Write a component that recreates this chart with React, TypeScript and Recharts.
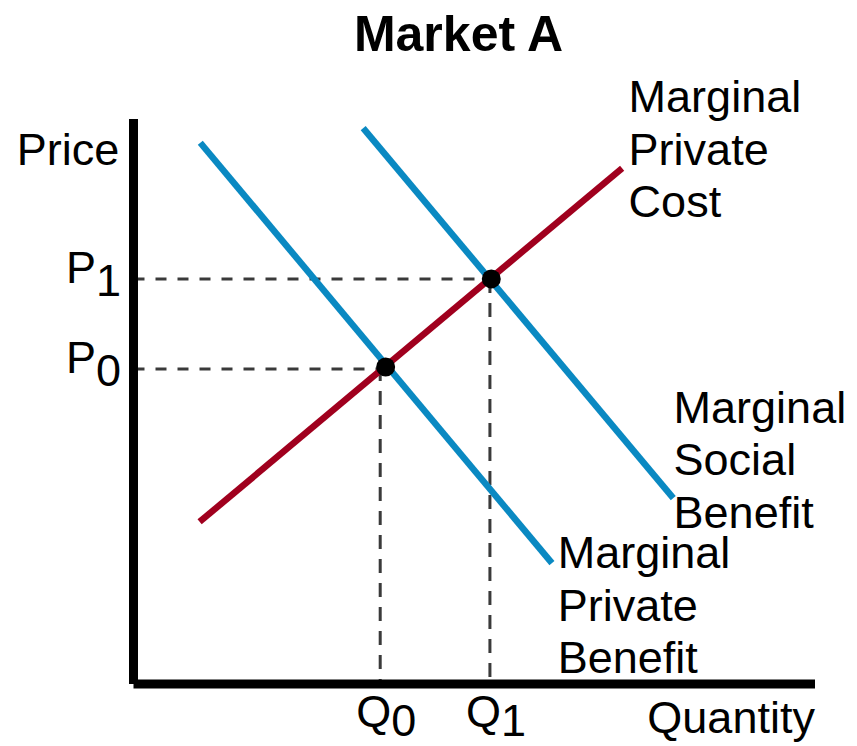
import React from 'react';
import { ComposedChart, Line, XAxis, YAxis, ReferenceLine, ReferenceDot } from 'recharts';

const W = 857;
const H = 746;
const FONT = '"Liberation Sans", Arial, Helvetica, sans-serif';
const BLUE = '#0A89C2';
const RED = '#A0001E';
const GUIDE = '#3a3a3a';

// Curves (quantity x, price y), in 0..100 units
const mpcCurve = [
  { x: 9.7, y: 28.7 },
  { x: 71.7, y: 91.3 },
];
const mpbCurve = [
  { x: 9.8, y: 95.8 },
  { x: 61.4, y: 21.4 },
];
const msbCurve = [
  { x: 33.7, y: 98.4 },
  { x: 79.2, y: 32.9 },
];

// Equilibria
const eqQuantity = [37.0, 52.5];
const eqPrice = [56.1, 71.7];
// Guide positions / ticks
const qGuide = [36.2, 52.3];
const pGuide = [55.75, 71.7];
const subscripts = ['0', '1'];

// Text annotations (anchor in data units)
const curveLabels = [
  { lines: ['Marginal', 'Private', 'Cost'], x: 72.65, y: 101.2 },
  { lines: ['Marginal', 'Social', 'Benefit'], x: 79.25, y: 46.2 },
  { lines: ['Marginal', 'Private', 'Benefit'], x: 62.24, y: 20.5 },
];
const titleSpot = { text: 'Market A', x: 47.7, y: 112.0 };
const priceSpot = { text: 'Price', x: -2.1, y: 91.9 };
const quantitySpot = { text: 'Quantity', x: 75.4, y: -8.67 };

const makeText = (lines: string[], anchor: string, size: number, weight: string) => (props: any) => {
  const vb = props.viewBox || {};
  const x = vb.x ?? 0;
  const y = vb.y ?? 0;
  return (
    <text x={x} y={y} textAnchor={anchor} fontFamily={FONT} fontSize={size} fontWeight={weight} fill="#000">
      {lines.map((l, i) => (
        <tspan key={i} x={x} dy={i === 0 ? 0 : 52.5}>
          {l}
        </tspan>
      ))}
    </text>
  );
};

const PTick = (props: any) => {
  const { x, y, index } = props;
  return (
    <text x={x - 10.5} y={y + 4} textAnchor="end" fontFamily={FONT} fontSize={45} fill="#000">
      P<tspan dy={13}>{subscripts[index]}</tspan>
    </text>
  );
};

const QTick = (props: any) => {
  const { x, y, index } = props;
  return (
    <text x={x + 6} y={y + 41} textAnchor="middle" fontFamily={FONT} fontSize={45} fill="#000">
      Q<tspan dy={9}>{subscripts[index]}</tspan>
    </text>
  );
};

export default function App() {
  return (
    <div style={{ position: 'absolute', left: 0, top: 0, width: W, height: H, background: '#fff' }}>
      <ComposedChart width={W} height={H} margin={{ top: 119, right: 42, bottom: 0, left: 0 }}>
        <XAxis
          type="number"
          dataKey="x"
          domain={[0, 100]}
          ticks={qGuide}
          interval={0}
          tick={(p: any) => <QTick {...p} />}
          tickLine={false}
          tickSize={0}
          axisLine={{ stroke: '#000', strokeWidth: 9 }}
          height={62}
          allowDataOverflow
        />
        <YAxis
          type="number"
          domain={[0, 100]}
          ticks={pGuide}
          interval={0}
          tick={(p: any) => <PTick {...p} />}
          tickLine={false}
          tickSize={0}
          axisLine={{ stroke: '#000', strokeWidth: 9 }}
          width={133.5}
          allowDataOverflow
        />

        {[0, 1].map((i) => (
          <ReferenceLine
            key={'h' + i}
            segment={[
              { x: 0, y: pGuide[i] },
              { x: eqQuantity[i], y: pGuide[i] },
            ]}
            stroke={GUIDE}
            strokeWidth={3}
            strokeDasharray="11 11"
            ifOverflow="visible"
          />
        ))}
        {[0, 1].map((i) => (
          <ReferenceLine
            key={'v' + i}
            segment={[
              { x: qGuide[i], y: eqPrice[i] },
              { x: qGuide[i], y: 0 },
            ]}
            stroke={GUIDE}
            strokeWidth={3}
            strokeDasharray="14 10"
            ifOverflow="visible"
          />
        ))}

        <Line data={mpbCurve} dataKey="y" type="linear" stroke={BLUE} strokeWidth={6.5} dot={false} activeDot={false} isAnimationActive={false} />
        <Line data={msbCurve} dataKey="y" type="linear" stroke={BLUE} strokeWidth={6.5} dot={false} activeDot={false} isAnimationActive={false} />
        <Line data={mpcCurve} dataKey="y" type="linear" stroke={RED} strokeWidth={6.5} dot={false} activeDot={false} isAnimationActive={false} />

        {[0, 1].map((i) => (
          <ReferenceDot key={'d' + i} x={eqQuantity[i]} y={eqPrice[i]} r={9.5} fill="#000" stroke="none" ifOverflow="visible" />
        ))}

        {curveLabels.map((c, i) => (
          <ReferenceDot key={'l' + i} x={c.x} y={c.y} r={0} fill="none" stroke="none" ifOverflow="visible" label={makeText(c.lines, 'start', 45, 'normal')} />
        ))}
        <ReferenceDot x={titleSpot.x} y={titleSpot.y} r={0} fill="none" stroke="none" ifOverflow="visible" label={makeText([titleSpot.text], 'middle', 50, 'bold')} />
        <ReferenceDot x={priceSpot.x} y={priceSpot.y} r={0} fill="none" stroke="none" ifOverflow="visible" label={makeText([priceSpot.text], 'end', 45, 'normal')} />
        <ReferenceDot x={quantitySpot.x} y={quantitySpot.y} r={0} fill="none" stroke="none" ifOverflow="visible" label={makeText([quantitySpot.text], 'start', 45, 'normal')} />
      </ComposedChart>
    </div>
  );
}
